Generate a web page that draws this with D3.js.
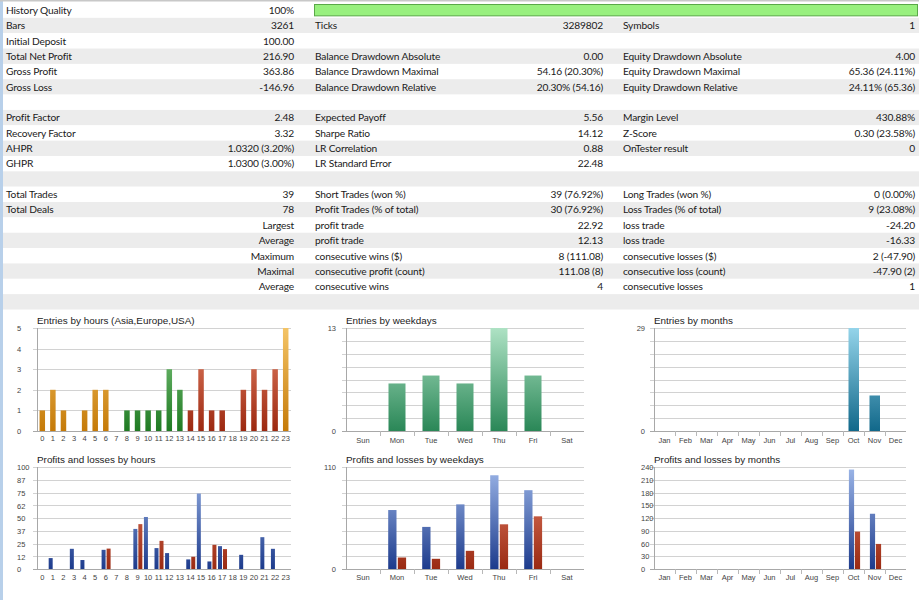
<!DOCTYPE html>
<html>
<head>
<meta charset="utf-8">
<script src="https://cdn.jsdelivr.net/npm/d3@7"></script>
<style>
body { margin: 0; background: #fff; }
</style>
</head>
<body>
<div id="report"></div>
<script>
// report rows: label1, value1, label2, value2, label3, value3
var rows = [
    ["History Quality", "100%", "", "", "", ""],
    ["Bars", "3261", "Ticks", "3289802", "Symbols", "1"],
    ["Initial Deposit", "100.00", "", "", "", ""],
    ["Total Net Profit", "216.90", "Balance Drawdown Absolute", "0.00", "Equity Drawdown Absolute", "4.00"],
    ["Gross Profit", "363.86", "Balance Drawdown Maximal", "54.16 (20.30%)", "Equity Drawdown Maximal", "65.36 (24.11%)"],
    ["Gross Loss", "-146.96", "Balance Drawdown Relative", "20.30% (54.16)", "Equity Drawdown Relative", "24.11% (65.36)"],
    ["", "", "", "", "", ""],
    ["Profit Factor", "2.48", "Expected Payoff", "5.56", "Margin Level", "430.88%"],
    ["Recovery Factor", "3.32", "Sharpe Ratio", "14.12", "Z-Score", "0.30 (23.58%)"],
    ["AHPR", "1.0320 (3.20%)", "LR Correlation", "0.88", "OnTester result", "0"],
    ["GHPR", "1.0300 (3.00%)", "LR Standard Error", "22.48", "", ""],
    ["", "", "", "", "", ""],
    ["Total Trades", "39", "Short Trades (won %)", "39 (76.92%)", "Long Trades (won %)", "0 (0.00%)"],
    ["Total Deals", "78", "Profit Trades (% of total)", "30 (76.92%)", "Loss Trades (% of total)", "9 (23.08%)"],
    ["", "Largest", "profit trade", "22.92", "loss trade", "-24.20"],
    ["", "Average", "profit trade", "12.13", "loss trade", "-16.33"],
    ["", "Maximum", "consecutive wins ($)", "8 (111.08)", "consecutive losses ($)", "2 (-47.90)"],
    ["", "Maximal", "consecutive profit (count)", "111.08 (8)", "consecutive loss (count)", "-47.90 (2)"],
    ["", "Average", "consecutive wins", "4", "consecutive losses", "1"],
    ["", "", "", "", "", ""]
];
var historyQuality = 1.0;

// chart data
var hours = d3.range(24).map(String);
var hourEntries = [1, 2, 1, 0, 1, 2, 2, 0, 1, 1, 1, 1, 3, 2, 1, 3, 1, 1, 0, 2, 3, 2, 3, 5];
var hourSession = ["asia", "asia", "asia", "asia", "asia", "asia", "asia", "asia",
    "europe", "europe", "europe", "europe", "europe", "europe",
    "usa", "usa", "usa", "usa", "usa", "usa", "usa", "usa", "usa", "asia"];
var weekdays = ["Sun", "Mon", "Tue", "Wed", "Thu", "Fri", "Sat"];
var weekdayEntries = [0, 6, 7, 6, 13, 7, 0];
var months = ["Jan", "Feb", "Mar", "Apr", "May", "Jun", "Jul", "Aug", "Sep", "Oct", "Nov", "Dec"];
var monthEntries = [0, 0, 0, 0, 0, 0, 0, 0, 0, 29, 10, 0];

var hourProfit = [0, 10.7, 0, 19.8, 8.8, 0, 18.8, 0, 0, 39.3, 51, 20.5, 15.6, 0, 9.4, 74, 7.4, 22.4, 0, 13.9, 0, 31.2, 19.8, 0];
var hourLoss = [0, 0, 0, 0, 0, 0, 20, 0, 0, 44, 0, 27.6, 0, 0, 12, 0, 23.7, 19.5, 0, 0, 0, 0, 0, 0];
var weekdayProfit = [0, 63.6, 45.4, 69.7, 101.1, 85, 0];
var weekdayLoss = [0, 12.4, 11, 19.6, 48.2, 56.8, 0];
var monthProfit = [0, 0, 0, 0, 0, 0, 0, 0, 0, 234, 130, 0];
var monthLoss = [0, 0, 0, 0, 0, 0, 0, 0, 0, 88, 59, 0];

// y tick labels
var hourEntryTicks = [0, 1, 2, 3, 4, 5];
var weekdayEntryTicks = [0, 13];
var monthEntryTicks = [0, 29];
var hourPLTicks = [0, 12, 25, 37, 50, 62, 75, 87, 100];
var weekdayPLTicks = [0, 110];
var monthPLTicks = [0, 30, 60, 90, 120, 150, 180, 210, 240];

var svgWidth = 919;
var svgHeight = 600;

var svg = d3.select("#report")
    .append("svg")
    .attr("width", svgWidth)
    .attr("height", svgHeight)
    .style("display", "block");

var defs = svg.append("defs");

// ---------- table ----------
var rowH = 15.35;
var tableTop = 2.5;
var tableFont = "Lato, 'Open Sans', sans-serif";

var rowScale = d3.scaleLinear().domain([0, 1]).range([tableTop, tableTop + rowH]);

var table = svg.append("g")
    .attr("font-family", tableFont)
    .attr("font-size", "10.2px")
    .attr("letter-spacing", "-0.15px")
    .attr("fill", "#1a1a1a");

table.selectAll("rect.row")
    .data(rows)
    .enter()
    .append("rect")
    .attr("class", "row")
    .attr("x", 3)
    .attr("y", (d, i) => rowScale(i))
    .attr("width", svgWidth - 3)
    .attr("height", rowH)
    .attr("fill", (d, i) => i % 2 ? "#ececec" : "#ffffff");

// history quality bar
var qScale = d3.scaleLinear().domain([0, 1]).range([314, 917]);
table.append("rect")
    .attr("x", qScale(0) + 0.5)
    .attr("y", rowScale(0) + 2)
    .attr("width", qScale(historyQuality) - qScale(0))
    .attr("height", rowH - 4)
    .attr("fill", "#98f07e")
    .attr("stroke", "#5aa848")
    .attr("stroke-width", 1);

// columns: x and anchor
var cols = [
    { x: 6, anchor: "start" },
    { x: 294, anchor: "end" },
    { x: 315, anchor: "start" },
    { x: 603, anchor: "end" },
    { x: 623, anchor: "start" },
    { x: 915, anchor: "end" }
];

rows.forEach(function(r, i) {
    r.forEach(function(txt, c) {
        if (!txt) return;
        table.append("text")
            .attr("x", cols[c].x)
            .attr("y", rowScale(i) + 11.4)
            .attr("text-anchor", cols[c].anchor)
            .text(txt);
    });
});

// left strip and top line
svg.append("rect").attr("x", 0).attr("y", 0).attr("width", 3).attr("height", svgHeight).attr("fill", "#b8d0ea");
svg.append("rect").attr("x", 0).attr("y", 0).attr("width", svgWidth).attr("height", 1.5).attr("fill", "#c8c8c8");

// ---------- charts ----------
var chartFont = "'Liberation Sans', Arial, sans-serif";

var palettes = {
    asia: ["#f4c466", "#c57a08"],
    europe: ["#86cc86", "#1f7a22"],
    usa: ["#e8876a", "#9c2810"],
    weekday: ["#aee2c4", "#2a8757"],
    month: ["#94d4ea", "#11688a"],
    profit: ["#9cb6e8", "#1d3b8c"],
    loss: ["#e8826a", "#9a2a12"]
};

var gradCount = 0;
function gradient(name, yTop, yBot) {
    var id = "g" + (gradCount++);
    var lg = defs.append("linearGradient")
        .attr("id", id)
        .attr("gradientUnits", "userSpaceOnUse")
        .attr("x1", 0).attr("x2", 0)
        .attr("y1", yTop).attr("y2", yBot);
    lg.append("stop").attr("offset", "0%").attr("stop-color", palettes[name][0]);
    lg.append("stop").attr("offset", "100%").attr("stop-color", palettes[name][1]);
    return "url(#" + id + ")";
}

function drawChart(cfg) {
    var g = svg.append("g").attr("font-family", chartFont);

    var xScale = d3.scaleBand()
        .domain(cfg.cats)
        .range([cfg.x0, cfg.x1]);

    var yScale = d3.scaleLinear()
        .domain([0, cfg.max])
        .range([cfg.yBot, cfg.yTop]);

    // gridlines
    var grid = d3.range(cfg.gridN + 1).map(i => cfg.max * i / cfg.gridN);
    g.selectAll("line.grid")
        .data(grid)
        .enter()
        .append("line")
        .attr("x1", cfg.x0 - 4)
        .attr("x2", cfg.x1)
        .attr("y1", d => Math.round(yScale(d)) + 0.5)
        .attr("y2", d => Math.round(yScale(d)) + 0.5)
        .attr("stroke", d => d === 0 ? "#a8a8a8" : "#d2d2d2")
        .attr("stroke-width", 1);

    // y axis line
    g.append("line")
        .attr("x1", cfg.x0 + 0.5).attr("x2", cfg.x0 + 0.5)
        .attr("y1", cfg.yTop).attr("y2", cfg.yBot + 0.5)
        .attr("stroke", "#a8a8a8");

    // x ticks between bands
    if (cfg.xTicks) {
        g.selectAll("line.xt")
            .data(cfg.cats.slice(1))
            .enter()
            .append("line")
            .attr("x1", d => Math.round(xScale(d)) + 0.5)
            .attr("x2", d => Math.round(xScale(d)) + 0.5)
            .attr("y1", cfg.yBot)
            .attr("y2", cfg.yBot + 5)
            .attr("stroke", "#b8b8b8");
    }

    // title
    g.append("text")
        .attr("x", cfg.x0)
        .attr("y", cfg.yTop - 4)
        .attr("font-size", "9.9px")
        .attr("fill", "#222")
        .text(cfg.title);

    // y tick labels
    g.selectAll("text.yt")
        .data(cfg.yTicks)
        .enter()
        .append("text")
        .attr("x", cfg.yLabelX)
        .attr("y", d => yScale(d) + 3)
        .attr("text-anchor", cfg.yLabelAnchor)
        .attr("font-size", "7.5px")
        .attr("fill", "#444")
        .text(d => d);

    // x labels
    g.selectAll("text.xl")
        .data(cfg.cats)
        .enter()
        .append("text")
        .attr("x", d => xScale(d) + xScale.bandwidth() / 2)
        .attr("y", cfg.yBot + cfg.xLabelDy)
        .attr("text-anchor", "middle")
        .attr("font-size", "7.5px")
        .attr("fill", "#444")
        .text(d => d);

    // bars
    var bw = xScale.bandwidth();
    cfg.series.forEach(function(s) {
        var fills = {};
        g.selectAll(null)
            .data(s.values.map((v, i) => ({ v: v, c: cfg.cats[i], i: i })).filter(d => d.v > 0))
            .enter()
            .append("rect")
            .attr("x", d => xScale(d.c) + bw / 2 + s.offset)
            .attr("y", d => yScale(d.v))
            .attr("width", s.width)
            .attr("height", d => yScale(0) - yScale(d.v))
            .attr("fill", function(d) {
                var name = s.colors ? s.colors[d.i] : s.color;
                if (!fills[name]) fills[name] = gradient(name, cfg.yTop, cfg.yBot);
                return fills[name];
            });
    });
}

// top row: entries
drawChart({
    title: "Entries by hours (Asia,Europe,USA)",
    cats: hours, x0: 37, x1: 291, yTop: 328, yBot: 431,
    max: 5, gridN: 5, yTicks: hourEntryTicks, yLabelX: 17, yLabelAnchor: "start",
    xLabelDy: 10, xTicks: false,
    series: [{ values: hourEntries, colors: hourSession, width: 5.5, offset: -2.75 }]
});
drawChart({
    title: "Entries by weekdays",
    cats: weekdays, x0: 346, x1: 584, yTop: 328, yBot: 431,
    max: 13, gridN: 8, yTicks: weekdayEntryTicks, yLabelX: 336, yLabelAnchor: "end",
    xLabelDy: 12, xTicks: true,
    series: [{ values: weekdayEntries, color: "weekday", width: 17, offset: -8.5 }]
});
drawChart({
    title: "Entries by months",
    cats: months, x0: 654, x1: 906, yTop: 328, yBot: 431,
    max: 29, gridN: 8, yTicks: monthEntryTicks, yLabelX: 645, yLabelAnchor: "end",
    xLabelDy: 12, xTicks: true,
    series: [{ values: monthEntries, color: "month", width: 10.5, offset: -5 }]
});

// bottom row: profits and losses
drawChart({
    title: "Profits and losses by hours",
    cats: hours, x0: 37, x1: 291, yTop: 467, yBot: 569,
    max: 100, gridN: 8, yTicks: hourPLTicks, yLabelX: 17, yLabelAnchor: "start",
    xLabelDy: 11, xTicks: false,
    series: [
        { values: hourProfit, color: "profit", width: 4, offset: -4.2 },
        { values: hourLoss, color: "loss", width: 4, offset: 0.8 }
    ]
});
drawChart({
    title: "Profits and losses by weekdays",
    cats: weekdays, x0: 346, x1: 584, yTop: 467, yBot: 569,
    max: 110, gridN: 8, yTicks: weekdayPLTicks, yLabelX: 336, yLabelAnchor: "end",
    xLabelDy: 11, xTicks: true,
    series: [
        { values: weekdayProfit, color: "profit", width: 8.3, offset: -8.8 },
        { values: weekdayLoss, color: "loss", width: 8.3, offset: 0.8 }
    ]
});
drawChart({
    title: "Profits and losses by months",
    cats: months, x0: 654, x1: 906, yTop: 467, yBot: 569,
    max: 240, gridN: 8, yTicks: monthPLTicks, yLabelX: 641, yLabelAnchor: "start",
    xLabelDy: 11, xTicks: true,
    series: [
        { values: monthProfit, color: "profit", width: 5.2, offset: -4.6 },
        { values: monthLoss, color: "loss", width: 5.2, offset: 1.4 }
    ]
});
</script>
</body>
</html>
